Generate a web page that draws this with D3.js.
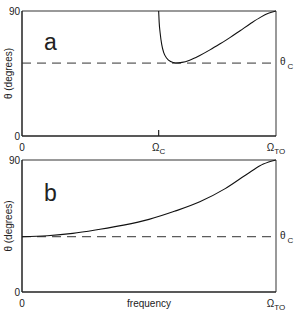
<!DOCTYPE html>
<html>
<head>
<meta charset="utf-8">
<script src="https://cdn.jsdelivr.net/npm/d3@7"></script>
<style>
body{margin:0;background:#fff;}
svg text{font-family:"Liberation Sans",Arial,sans-serif;fill:#222;}
</style>
</head>
<body>
<div id="chartplace"></div>
<script>
// frequency normalised so that Omega_TO = 1
var omegaC = 0.538;
var thetaCa = 52.5;   // critical angle, panel a
var thetaCb = 37.7;   // critical angle, panel b

var freqA  = [0.538, 0.540, 0.544, 0.550, 0.558, 0.570, 0.585, 0.605, 0.630, 0.660, 0.700, 0.740, 0.780, 0.820, 0.860, 0.900, 0.940, 0.970, 1.000];
var thetaA = [90, 82, 74, 66, 60, 56, 53.6, 52.6, 53, 54.6, 58, 62, 66.4, 71, 76, 81, 85.6, 88.3, 90];

var freqB  = [0, 0.1, 0.2, 0.3, 0.4, 0.5, 0.6, 0.7, 0.8, 0.9, 0.95, 1.0];
var thetaB = [37.7, 38.4, 40, 42.6, 45.6, 49.5, 55, 61.5, 70.5, 82, 87.2, 90];

var yTicks = [0, 90];

var width = 297, height = 313;
var left = 22, right = 276;

var svg = d3.select("#chartplace").append("svg")
	.attr("width", width)
	.attr("height", height);

var x = d3.scaleLinear().domain([0, 1]).range([left, right]);

function panel(top, bottom, letter, letterY, freq, theta, thetaC, xlabels, showFreq){
	var y = d3.scaleLinear().domain([0, 90]).range([bottom, top]);
	var g = svg.append("g");

	// frame
	g.append("line").attr("x1", left).attr("x2", right).attr("y1", top).attr("y2", top)
		.attr("stroke", "#777").attr("stroke-width", 1.5);
	g.append("line").attr("x1", right).attr("x2", right).attr("y1", top).attr("y2", bottom)
		.attr("stroke", "#777").attr("stroke-width", 1.5);
	g.append("line").attr("x1", left).attr("x2", right).attr("y1", bottom).attr("y2", bottom)
		.attr("stroke", "#222").attr("stroke-width", 1.5);
	g.append("line").attr("x1", left).attr("x2", left).attr("y1", top).attr("y2", bottom)
		.attr("stroke", "#222").attr("stroke-width", 1.5);

	// y tick labels
	g.selectAll(".yt").data(yTicks).enter().append("text")
		.attr("x", left - 2)
		.attr("y", function(d){ return y(d) + 4; })
		.attr("text-anchor", "end")
		.attr("font-size", 10)
		.text(function(d){ return d; });

	// y axis title
	g.append("text")
		.attr("transform", "translate(12," + (top + bottom) / 2 + ") rotate(-90)")
		.attr("text-anchor", "middle")
		.attr("font-size", 10)
		.text("θ (degrees)");

	// panel letter
	g.append("text")
		.attr("x", 44).attr("y", letterY)
		.attr("font-size", 23)
		.text(letter);

	// dashed critical angle
	g.append("line")
		.attr("x1", left).attr("x2", right)
		.attr("y1", y(thetaC)).attr("y2", y(thetaC))
		.attr("stroke", "#333").attr("stroke-width", 1)
		.attr("stroke-dasharray", "9,6");
	var tc = g.append("text")
		.attr("x", 280).attr("y", y(thetaC) + 2)
		.attr("font-size", 10);
	tc.append("tspan").text("θ");
	tc.append("tspan").attr("dx", 2).attr("dy", 4).attr("font-size", 8).text("C");

	// curve
	var pts = freq.map(function(f, i){ return [f, theta[i]]; });
	var line = d3.line()
		.x(function(d){ return x(d[0]); })
		.y(function(d){ return y(d[1]); })
		.curve(d3.curveMonotoneX);
	g.append("path")
		.attr("d", line(pts))
		.attr("fill", "none")
		.attr("stroke", "#111")
		.attr("stroke-width", 1.1);

	// x labels
	xlabels.forEach(function(l){
		var t = g.append("text")
			.attr("x", x(l.v)).attr("y", bottom + 15)
			.attr("text-anchor", "middle")
			.attr("font-size", 10);
		t.append("tspan").text(l.main);
		if(l.sub){
			t.append("tspan").attr("dy", 3).attr("font-size", 8).text(l.sub);
		}
	});
	if(showFreq){
		g.append("text")
			.attr("x", x(0.5)).attr("y", bottom + 15)
			.attr("text-anchor", "middle")
			.attr("font-size", 10)
			.text("frequency");
	}
	return y;
}

var ya = panel(11, 136, "a", 50, freqA, thetaA, thetaCa,
	[{v:0, main:"0"}, {v:omegaC, main:"Ω", sub:"C"}, {v:1, main:"Ω", sub:"TO"}], false);
// tick at Omega_C
svg.append("line")
	.attr("x1", x(omegaC)).attr("x2", x(omegaC))
	.attr("y1", ya(0)).attr("y2", ya(0) - 6)
	.attr("stroke", "#222").attr("stroke-width", 1.2);

panel(160, 292, "b", 201, freqB, thetaB, thetaCb,
	[{v:0, main:"0"}, {v:1, main:"Ω", sub:"TO"}], true);
</script>
</body>
</html>
